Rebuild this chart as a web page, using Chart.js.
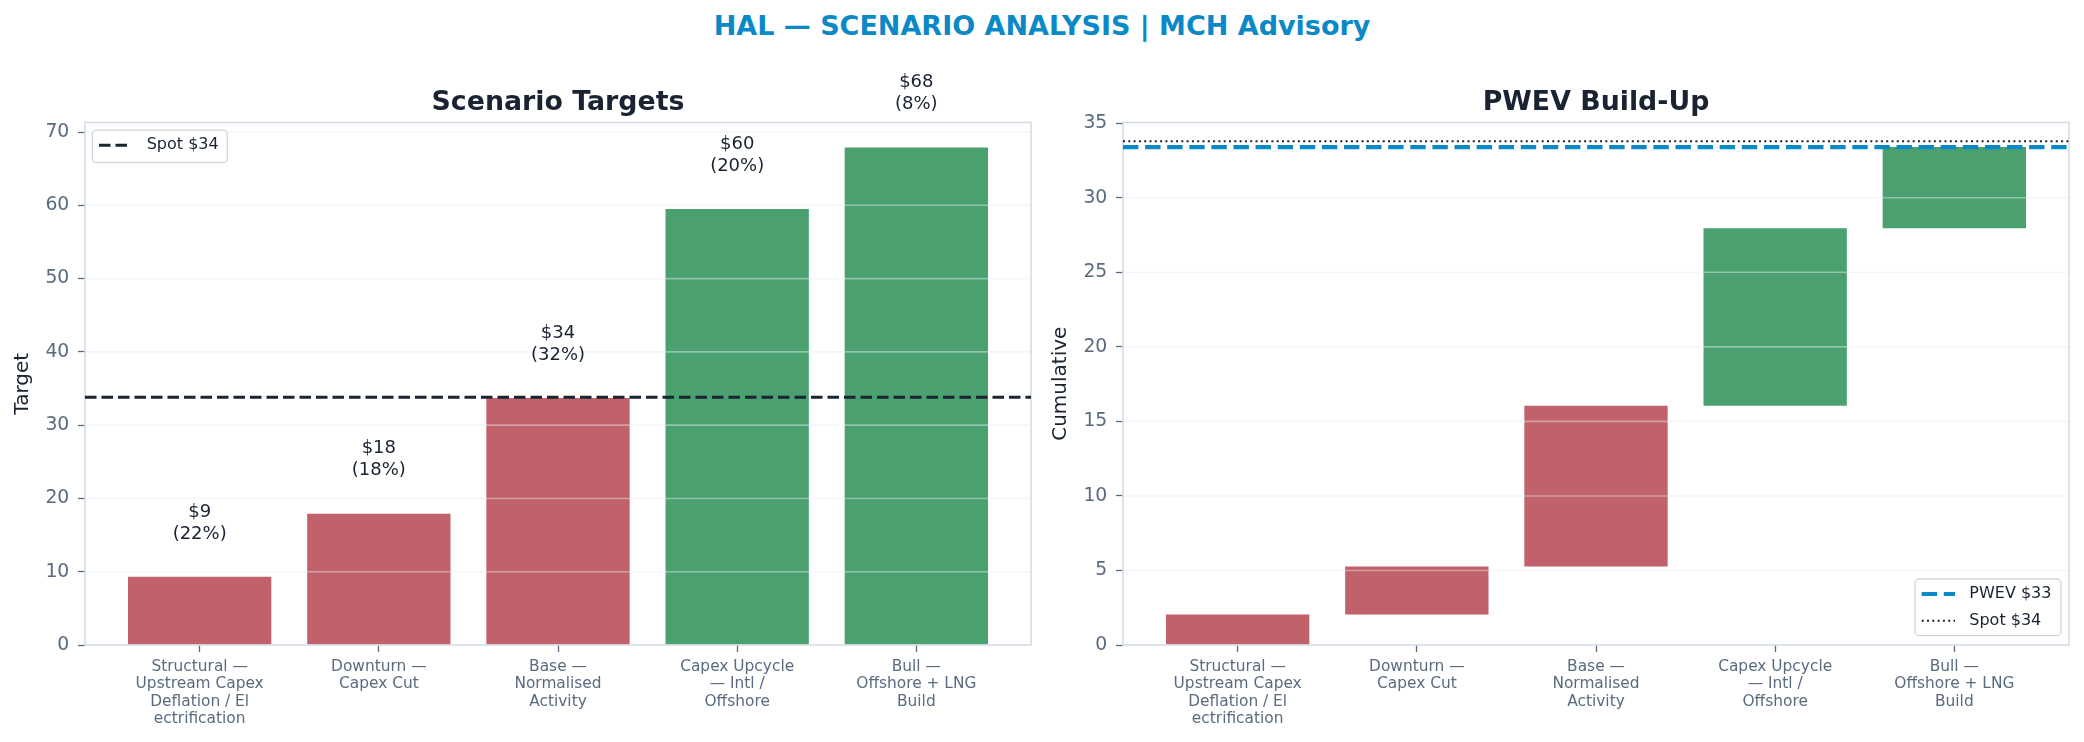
<!DOCTYPE html>
<html>
<head>
<meta charset="utf-8">
<script src="https://cdn.jsdelivr.net/npm/chart.js@4.4.1/dist/chart.umd.min.js"></script>
<style>
  html, body { margin: 0; padding: 0; background: #ffffff; }
  body { width: 2084px; height: 742px; position: relative; overflow: hidden; }
  #suptitle { position: absolute; left: 0; width: 2084px; top: 12px; text-align: center;
    font-family: 'DejaVu Sans', sans-serif; font-weight: bold; font-size: 27px; line-height: 27px; color: #0a89c6; white-space: nowrap; }
  #left { position: absolute; left: 0; top: 0; }
  #right { position: absolute; left: 1040px; top: 0; }
</style>
</head>
<body>
<div id="suptitle">HAL — SCENARIO ANALYSIS | MCH Advisory</div>
<canvas id="left" width="1040" height="742"></canvas>
<canvas id="right" width="1044" height="742"></canvas>
<script>
// ---------------- DATA ----------------
const categories = [
  ['Structural —', 'Upstream Capex', 'Deflation / El', 'ectrification'],
  ['Downturn —', 'Capex Cut'],
  ['Base —', 'Normalised', 'Activity'],
  ['Capex Upcycle', '— Intl /', 'Offshore'],
  ['Bull —', 'Offshore + LNG', 'Build']
];
const targets = [9.3, 17.9, 33.7, 59.5, 67.9];
const probabilities = ['22%', '18%', '32%', '20%', '8%'];
const targetLabels = ['$9', '$18', '$34', '$60', '$68'];
const cumStart = [0, 2.05, 5.27, 16.05, 27.95];
const cumEnd = [2.05, 5.27, 16.05, 27.95, 33.4];
const spotPrice = 33.8;
const pwevValue = 33.4;
const leftYTicks = [0, 10, 20, 30, 40, 50, 60, 70];
const rightYTicks = [0, 5, 10, 15, 20, 25, 30, 35];
const leftYMax = 71.3;
const rightYMax = 35.05;
const spotLegend = 'Spot $34';
const pwevLegend = 'PWEV $33';
const leftTitle = 'Scenario Targets';
const rightTitle = 'PWEV Build-Up';
const leftYLabel = 'Target';
const rightYLabel = 'Cumulative';

// ---------------- STYLE ----------------
const RED = '#c0616b';
const GREEN = '#4aa16f';
const DARK = '#1a2332';
const TICK = '#5a6b80';
const BLUE = '#0a89c6';
const FRAME = '#d5dce5';
const FONT = "'DejaVu Sans', sans-serif";
const barColor = (i) => (i < 3 ? RED : GREEN);

Chart.defaults.font.family = FONT;
Chart.defaults.color = TICK;

function xScale() {
  return {
    type: 'linear', min: -0.64, max: 4.64, offset: false, bounds: 'ticks',
    afterDataLimits: (s) => { s.min = -0.64; s.max = 4.64; },
    afterBuildTicks: (s) => { s.ticks = categories.map((c, i) => ({ value: i })); },
    afterFit: (s) => { s.height = 97; },
    ticks: {
      autoSkip: false, maxRotation: 0, minRotation: 0, padding: 6, color: TICK,
      font: { size: 15.4, lineHeight: '17.4px' },
      callback: (v) => categories[v]
    },
    grid: { display: true, offset: false, drawOnChartArea: false, drawTicks: true, tickLength: 7, tickColor: TICK, tickWidth: 1.3 },
    border: { display: false }
  };
}
function yScale(max, ticks, width) {
  return {
    type: 'linear', min: 0, max: max,
    afterBuildTicks: (s) => { s.ticks = ticks.map((v) => ({ value: v })); },
    afterFit: (s) => { s.width = width; },
    ticks: { padding: 8.7, color: TICK, font: { size: 18.8 } },
    grid: { display: true, drawOnChartArea: false, drawTicks: true, tickLength: 7, tickColor: TICK, tickWidth: 1.3 },
    border: { display: false }
  };
}

function drawLegend(ctx, box, items) {
  ctx.save();
  const r = 4;
  ctx.beginPath();
  ctx.roundRect(box.x, box.y, box.w, box.h, r);
  ctx.fillStyle = 'rgba(255,255,255,0.85)';
  ctx.fill();
  ctx.lineWidth = 1.3;
  ctx.strokeStyle = '#d0d6de';
  ctx.stroke();
  items.forEach((it) => {
    ctx.beginPath();
    ctx.setLineDash(it.dash);
    ctx.lineWidth = it.lw;
    ctx.strokeStyle = it.color;
    ctx.moveTo(it.x0, it.y);
    ctx.lineTo(it.x1, it.y);
    ctx.stroke();
    ctx.setLineDash([]);
    ctx.fillStyle = DARK;
    ctx.font = '16px ' + FONT;
    ctx.textAlign = 'left';
    ctx.textBaseline = 'middle';
    ctx.fillText(it.text, it.tx, it.y);
  });
  ctx.restore();
}

function hline(ctx, area, y, color, lw, dash) {
  ctx.save();
  ctx.beginPath();
  ctx.setLineDash(dash);
  ctx.lineWidth = lw;
  ctx.strokeStyle = color;
  ctx.moveTo(area.left, y);
  ctx.lineTo(area.right, y);
  ctx.stroke();
  ctx.restore();
}

function commonDecor(chart, ticks, title, ylabel) {
  const ctx = chart.ctx, a = chart.chartArea, ys = chart.scales.y;
  ctx.save();
  ctx.strokeStyle = 'rgba(232,236,242,0.45)';
  ctx.lineWidth = 1.6;
  ticks.forEach((v) => {
    const y = ys.getPixelForValue(v);
    if (y > a.top + 1 && y < a.bottom - 1) {
      ctx.beginPath(); ctx.moveTo(a.left, y); ctx.lineTo(a.right, y); ctx.stroke();
    }
  });
  ctx.strokeStyle = FRAME;
  ctx.lineWidth = 1.6;
  ctx.strokeRect(a.left, a.top, a.right - a.left, a.bottom - a.top);
  ctx.fillStyle = DARK;
  ctx.font = 'bold 26.8px ' + FONT;
  ctx.textAlign = 'center';
  ctx.textBaseline = 'alphabetic';
  ctx.fillText(title, (a.left + a.right) / 2, 109.5);
  ctx.translate(a.left - 62, (a.top + a.bottom) / 2);
  ctx.rotate(-Math.PI / 2);
  ctx.font = '20px ' + FONT;
  ctx.textBaseline = 'middle';
  ctx.fillText(ylabel, 0, 0);
  ctx.restore();
}

// ---------------- LEFT CHART ----------------
const leftPlugin = {
  id: 'leftDecor',
  afterDatasetsDraw(chart) {
    const ctx = chart.ctx, a = chart.chartArea;
    commonDecor(chart, leftYTicks, leftTitle, leftYLabel);
    hline(ctx, a, chart.scales.y.getPixelForValue(spotPrice), DARK, 3.1, [11.5, 5]);
    const meta = chart.getDatasetMeta(0);
    ctx.save();
    ctx.fillStyle = DARK;
    ctx.font = '18px ' + FONT;
    ctx.textAlign = 'center';
    ctx.textBaseline = 'middle';
    meta.data.forEach((bar, i) => {
      ctx.fillText(targetLabels[i], bar.x, bar.y - 65);
      ctx.fillText('(' + probabilities[i] + ')', bar.x, bar.y - 43);
    });
    ctx.restore();
    drawLegend(ctx, { x: a.left + 7.3, y: a.top + 7.7, w: 135, h: 32.3 }, [
      { x0: a.left + 14, x1: a.left + 44, y: a.top + 22.7, dash: [11.5, 5], lw: 3.1, color: DARK, text: spotLegend, tx: a.left + 61.7 }
    ]);
  }
};

new Chart(document.getElementById('left'), {
  type: 'bar',
  data: {
    datasets: [{
      data: targets.map((v, i) => ({ x: i, y: v })),
      backgroundColor: targets.map((v, i) => barColor(i)),
      borderWidth: 0,
      categoryPercentage: 1.0,
      barPercentage: 0.8
    }]
  },
  options: {
    responsive: false, animation: false, devicePixelRatio: 1,
    layout: { padding: { top: 122.5, left: 0, right: 9, bottom: 0 } },
    plugins: { legend: { display: false }, tooltip: { enabled: false }, title: { display: false } },
    scales: { x: xScale(), y: yScale(leftYMax, leftYTicks, 85) }
  },
  plugins: [leftPlugin]
});

// ---------------- RIGHT CHART ----------------
const rightPlugin = {
  id: 'rightDecor',
  afterDatasetsDraw(chart) {
    const ctx = chart.ctx, a = chart.chartArea, ys = chart.scales.y;
    commonDecor(chart, rightYTicks, rightTitle, rightYLabel);
    hline(ctx, a, ys.getPixelForValue(pwevValue), BLUE, 4.2, [15.4, 6.7]);
    hline(ctx, a, ys.getPixelForValue(spotPrice), DARK, 2, [2, 3.3]);
    const bx = a.right - 8 - 146, by = a.bottom - 9.3 - 56.7;
    drawLegend(ctx, { x: bx, y: by, w: 146, h: 56.7 }, [
      { x0: bx + 6.7, x1: bx + 40, y: by + 15, dash: [15.4, 6.7], lw: 4.2, color: BLUE, text: pwevLegend, tx: bx + 54.3 },
      { x0: bx + 6.7, x1: bx + 40, y: by + 41.7, dash: [2, 3.3], lw: 2, color: DARK, text: spotLegend, tx: bx + 54.3 }
    ]);
  }
};

new Chart(document.getElementById('right'), {
  type: 'bar',
  data: {
    datasets: [{
      data: cumStart.map((s, i) => ({ x: i, y: [s, cumEnd[i]] })),
      backgroundColor: cumStart.map((s, i) => barColor(i)),
      borderWidth: 0,
      borderSkipped: false,
      categoryPercentage: 1.0,
      barPercentage: 0.8
    }]
  },
  options: {
    responsive: false, animation: false, devicePixelRatio: 1,
    layout: { padding: { top: 122.5, left: 0, right: 15, bottom: 0 } },
    plugins: { legend: { display: false }, tooltip: { enabled: false }, title: { display: false } },
    scales: { x: xScale(), y: yScale(rightYMax, rightYTicks, 83) }
  },
  plugins: [rightPlugin]
});
</script>
</body>
</html>
